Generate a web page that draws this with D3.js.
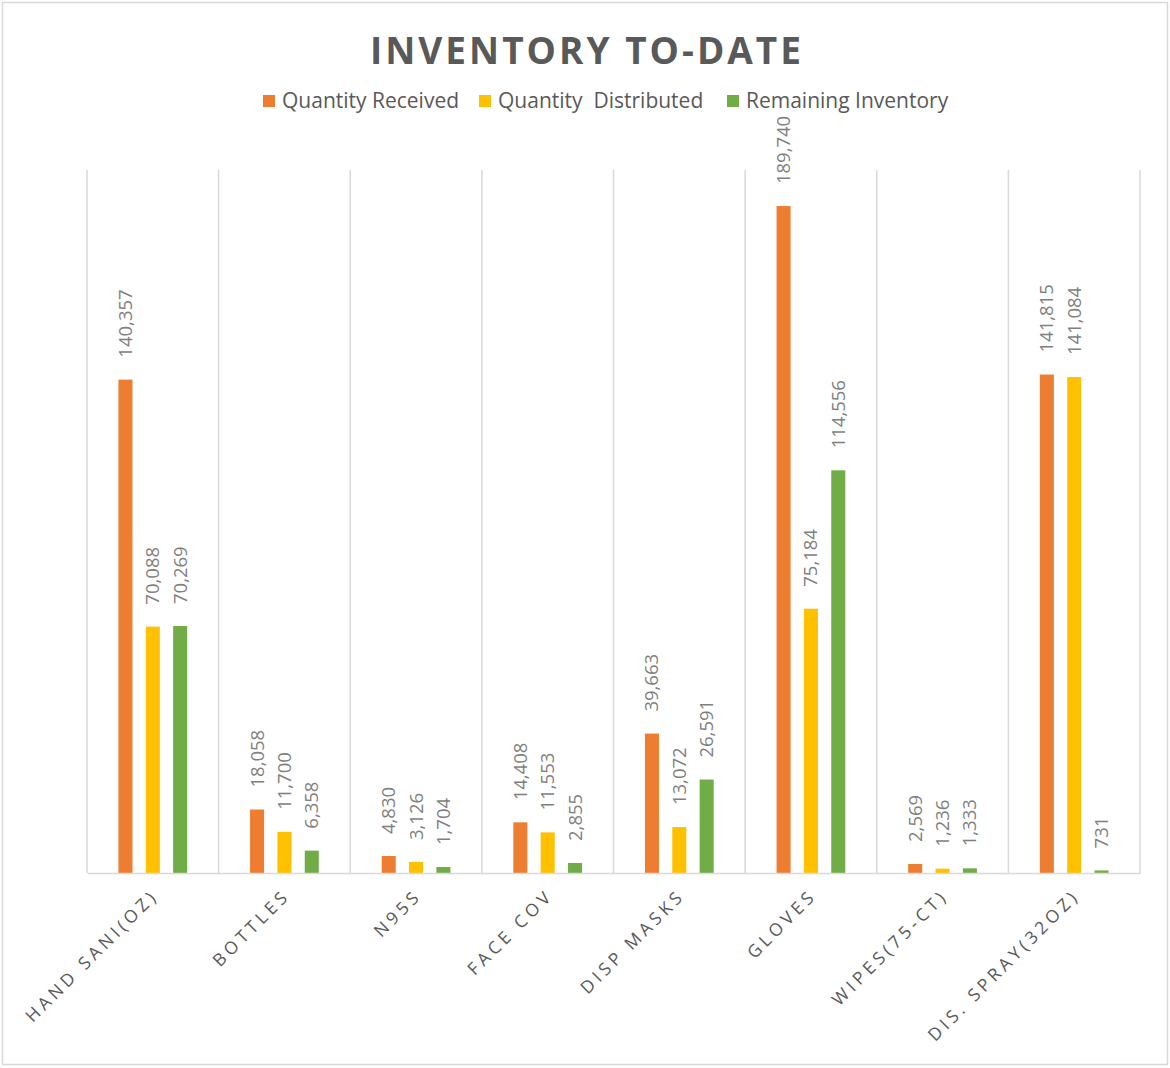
<!DOCTYPE html>
<html lang="en">
<head>
<meta charset="utf-8">
<title>Inventory To-Date</title>
<script src="https://d3js.org/d3.v7.min.js"></script>
<style>
  body { margin: 0; background: #fff; }
  text { font-family: "Open Sans", sans-serif; }
</style>
</head>
<body>
<chart></chart>
<script>
// data
const categories = ["HAND SANI(OZ)", "BOTTLES", "N95S", "FACE COV", "DISP MASKS", "GLOVES", "WIPES(75-CT)", "DIS. SPRAY(32OZ)"];
const seriesNames = ["Quantity Received", "Quantity  Distributed", "Remaining Inventory"];
const received = [140357, 18058, 4830, 14408, 39663, 189740, 2569, 141815];
const distributed = [70088, 11700, 3126, 11553, 13072, 75184, 1236, 141084];
const remaining = [70269, 6358, 1704, 2855, 26591, 114556, 1333, 731];
const colors = ["#ED7D31", "#FFC000", "#70AD47"];

const W = 1170, H = 1068;
const svg = d3.select("chart").append("svg").attr("width", W).attr("height", H);

// outer chart border
svg.append("rect")
  .attr("x", 2.5).attr("y", 2.5).attr("width", W - 5).attr("height", H - 6)
  .attr("fill", "#fff").attr("stroke", "#d9d9d9").attr("stroke-width", 1.5);

const plot = { left: 87, right: 1140, top: 170, bottom: 873 };

const x0 = d3.scaleBand().domain(categories).range([plot.left, plot.right]).padding(0);
const x1 = d3.scaleBand().domain(d3.range(3)).range([0, x0.bandwidth()])
  .paddingInner(0.487).paddingOuter(1.15);
const y = d3.scaleLinear().domain([0, 200000]).range([plot.bottom, plot.top]);

const rows = categories.map((c, i) => ({ cat: c, vals: [received[i], distributed[i], remaining[i]] }));

// vertical gridlines at category boundaries
const bounds = categories.map(c => x0(c)).concat([plot.right]);
svg.append("g").selectAll("line").data(bounds).join("line")
  .attr("x1", d => d).attr("x2", d => d)
  .attr("y1", plot.top).attr("y2", plot.bottom)
  .attr("stroke", "#d9d9d9").attr("stroke-width", 1.5);

// bars
const groups = svg.append("g").selectAll("g").data(rows).join("g")
  .attr("transform", d => "translate(" + x0(d.cat) + ",0)");

groups.selectAll("rect").data(d => d.vals.map((v, k) => ({ v, k }))).join("rect")
  .attr("x", d => x1(d.k))
  .attr("width", x1.bandwidth())
  .attr("y", d => y(d.v))
  .attr("height", d => y(0) - y(d.v))
  .attr("fill", d => colors[d.k]);

// value labels, rotated
groups.selectAll("text").data(d => d.vals.map((v, k) => ({ v, k }))).join("text")
  .attr("transform", d => "translate(" + (x1(d.k) + x1.bandwidth() / 2) + "," + (y(d.v) - 22) + ") rotate(-90)")
  .attr("dy", "0.35em")
  .attr("font-size", 18.5)
  .attr("fill", "#7f7f7f")
  .text(d => d3.format(",")(d.v));

// baseline axis
svg.append("g")
  .attr("transform", "translate(0," + plot.bottom + ")")
  .call(d3.axisBottom(x0).tickSize(0).tickFormat(""))
  .call(g => g.select(".domain").attr("stroke", "#d9d9d9").attr("stroke-width", 1.5));

// category labels
svg.append("g").selectAll("text").data(categories).join("text")
  .attr("transform", d => "translate(" + (x0(d) + x0.bandwidth() / 2 - 2) + "," + (plot.bottom + 15) + ") rotate(-45)")
  .attr("text-anchor", "end")
  .attr("dy", "0.7em")
  .attr("font-size", 17.5)
  .attr("letter-spacing", 4)
  .attr("fill", "#595959")
  .text(d => d);

// title
svg.append("text")
  .attr("x", 587).attr("y", 64)
  .attr("text-anchor", "middle")
  .attr("font-size", 37)
  .attr("font-weight", "bold")
  .attr("letter-spacing", 3)
  .attr("fill", "#595959")
  .text("INVENTORY TO-DATE");

// legend
const legendX = [263, 479, 727];
const legend = svg.append("g").selectAll("g").data(seriesNames).join("g")
  .attr("transform", (d, i) => "translate(" + legendX[i] + ",95)");
legend.append("rect").attr("width", 12).attr("height", 12).attr("fill", (d, i) => colors[i]);
legend.append("text")
  .attr("x", 19).attr("y", 13)
  .attr("font-size", 21)
  .attr("fill", "#595959")
  .style("white-space", "pre")
  .text(d => d);
</script>
</body>
</html>
